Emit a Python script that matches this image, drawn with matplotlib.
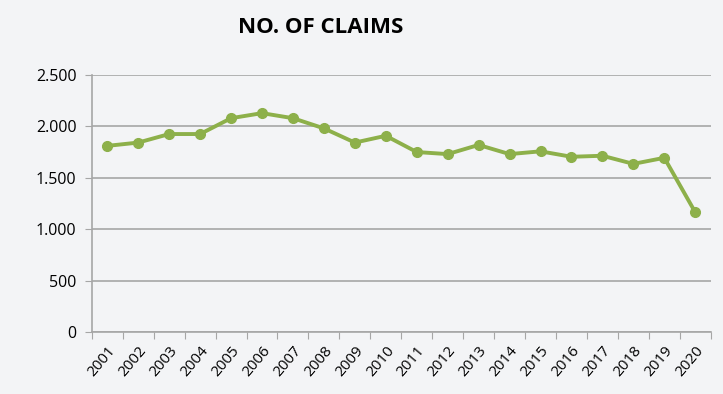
import matplotlib.pyplot as plt
import numpy as np
from matplotlib.ticker import FuncFormatter

years = [str(y) for y in range(2001, 2021)]
claims = [1810, 1842, 1925, 1925, 2079, 2128, 2079, 1980, 1842, 1908,
          1750, 1730, 1819, 1730, 1757, 1704, 1714, 1635, 1694, 1165]

bg = '#f3f4f6'
green = '#8db04a'
grey = '#a6a6a6'

plt.rcParams['font.family'] = ['Open Sans', 'DejaVu Sans']

fig = plt.figure(figsize=(7.23, 3.94), dpi=100, facecolor=bg)
ax = fig.add_axes([0.127, 0.157, 0.856, 0.653])
ax.set_facecolor(bg)

x = np.arange(len(years))
ax.plot(x, claims, color=green, lw=2.8, marker='o', markersize=7, zorder=3)

ax.set_xlim(-0.5, len(years) - 0.5)
ax.set_ylim(0, 2500)
ax.set_yticks(np.arange(0, 2501, 500))
ax.yaxis.set_major_formatter(FuncFormatter(lambda v, p: f'{int(v):,}'.replace(',', '.')))
ax.grid(axis='y', color=grey, lw=1.2)
ax.set_axisbelow(True)

ax.set_xticks(np.arange(-0.5, len(years), 1))
ax.set_xticklabels([])
ax.set_xticks(x, minor=True)
ax.set_xticklabels(years, minor=True, rotation=50, ha='right', rotation_mode='anchor', fontsize=11)
ax.tick_params(axis='x', which='major', length=5, color=grey, direction='out')
ax.tick_params(axis='x', which='minor', length=0, pad=8)
ax.tick_params(axis='y', length=5, color=grey, labelsize=11.5, pad=6)

for s in ['top', 'right']:
    ax.spines[s].set_visible(False)
for s in ['left', 'bottom']:
    ax.spines[s].set_color(grey)
    ax.spines[s].set_linewidth(1.2)

fig.text(0.443, 0.93, 'NO. OF CLAIMS', ha='center', va='center', fontsize=16, fontweight='bold')

fig.savefig('out.png', dpi=100, facecolor=bg)
